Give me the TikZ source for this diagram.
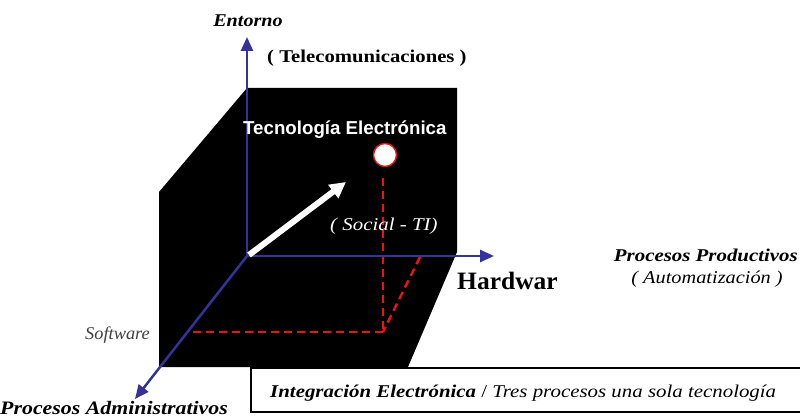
\documentclass[tikz,border=0pt]{standalone}
\usepackage{fontspec}
\setmainfont{Liberation Serif}
\newfontfamily\arialfont{Liberation Sans}
\usetikzlibrary{arrows.meta}
\definecolor{axisblue}{RGB}{51,51,153}
\definecolor{dashred}{RGB}{235,20,20}
\tikzset{
  axis/.style={draw=axisblue, line width=2.5pt, -{Triangle[length=14pt,width=12pt]}},
  reddash/.style={draw=dashred, line width=2.4pt, dash pattern=on 8pt off 5pt},
  lbl/.style={inner sep=0pt, anchor=base, font=\fontsize{18}{20}\selectfont},
}
\begin{document}
\begin{tikzpicture}[x=1pt,y=-1pt]
\useasboundingbox (0,0) rectangle (800,419);
% black plane
\fill[black] (247,88) -- (457,88) -- (457,252) -- (408,367) -- (159,367) -- (159,192) -- cycle;
% coordinates
\coordinate (O) at (247,256);
\coordinate (Ztop) at (247,37);
\coordinate (Xend) at (494,256);
\coordinate (Yend) at (135,399);
\coordinate (Wend) at (346,182);
\coordinate (P) at (383,332);
\coordinate (Pdown) at (383,178);
\coordinate (Pleft) at (193,332);
\coordinate (Pright) at (420,257);
% red dashed projections
\draw[reddash] (Pdown) -- (P);
\draw[reddash] (Pleft) -- (P);
\draw[reddash] (Pright) -- (P);
% axes
\draw[axis] (O) -- (Ztop);
\draw[axis] (O) -- (Xend);
\draw[axis] (O) -- (Yend);
% white arrow
\draw[white, line width=6pt, -{Triangle[length=16pt,width=16pt]}] (249,255) -- (Wend);
% point
\node[circle, draw=dashred, fill=white, line width=1.4pt, minimum size=23pt, inner sep=0pt] (pt) at (385,155) {};
% labels
\node[lbl, font=\fontsize{18}{20}\selectfont\bfseries\itshape, xscale=1.12] (entorno) at (248,27) {Entorno};
\node[lbl, font=\fontsize{18}{20}\selectfont\bfseries, xscale=1.15, anchor=base west] (tele) at (267,63) {( Telecomunicaciones )};
\node[lbl, font=\arialfont\fontsize{18.7}{20}\selectfont\bfseries, text=white, anchor=base west] (tec) at (243,135) {Tecnología Electrónica};
\node[lbl, font=\fontsize{18}{20}\selectfont\itshape, text=white, xscale=1.16, anchor=base west] (social) at (330,231) {( Social - TI)};
\node[lbl, font=\fontsize{25}{28}\selectfont\bfseries, xscale=1.02, anchor=base west] (hard) at (457,290) {Hardwar};
\node[lbl, font=\fontsize{18}{20}\selectfont\bfseries\itshape, xscale=1.16, anchor=base east] (prod) at (798,262) {Procesos Productivos};
\node[lbl, font=\fontsize{18}{20}\selectfont\itshape, xscale=1.13] (auto) at (707,284) {( Automatización )};
\node[lbl, font=\fontsize{18}{20}\selectfont\itshape, text=black!75, xscale=1.02, anchor=base east] (soft) at (150,340) {Software};
\node[lbl, font=\fontsize{19}{20}\selectfont\bfseries\itshape, xscale=1.15, anchor=base west] (adm) at (0,414) {Procesos Administrativos};
% bottom box
\draw[line width=1.8pt] (802,368) -- (251,368) -- (251,412) -- (802,412);
\node[lbl, font=\fontsize{18}{20}\selectfont, xscale=1.16, anchor=base west] (integ) at (270,397) {\textbf{\textit{Integración Electrónica}} / \textit{Tres procesos una sola tecnología}};
\end{tikzpicture}
\end{document}
